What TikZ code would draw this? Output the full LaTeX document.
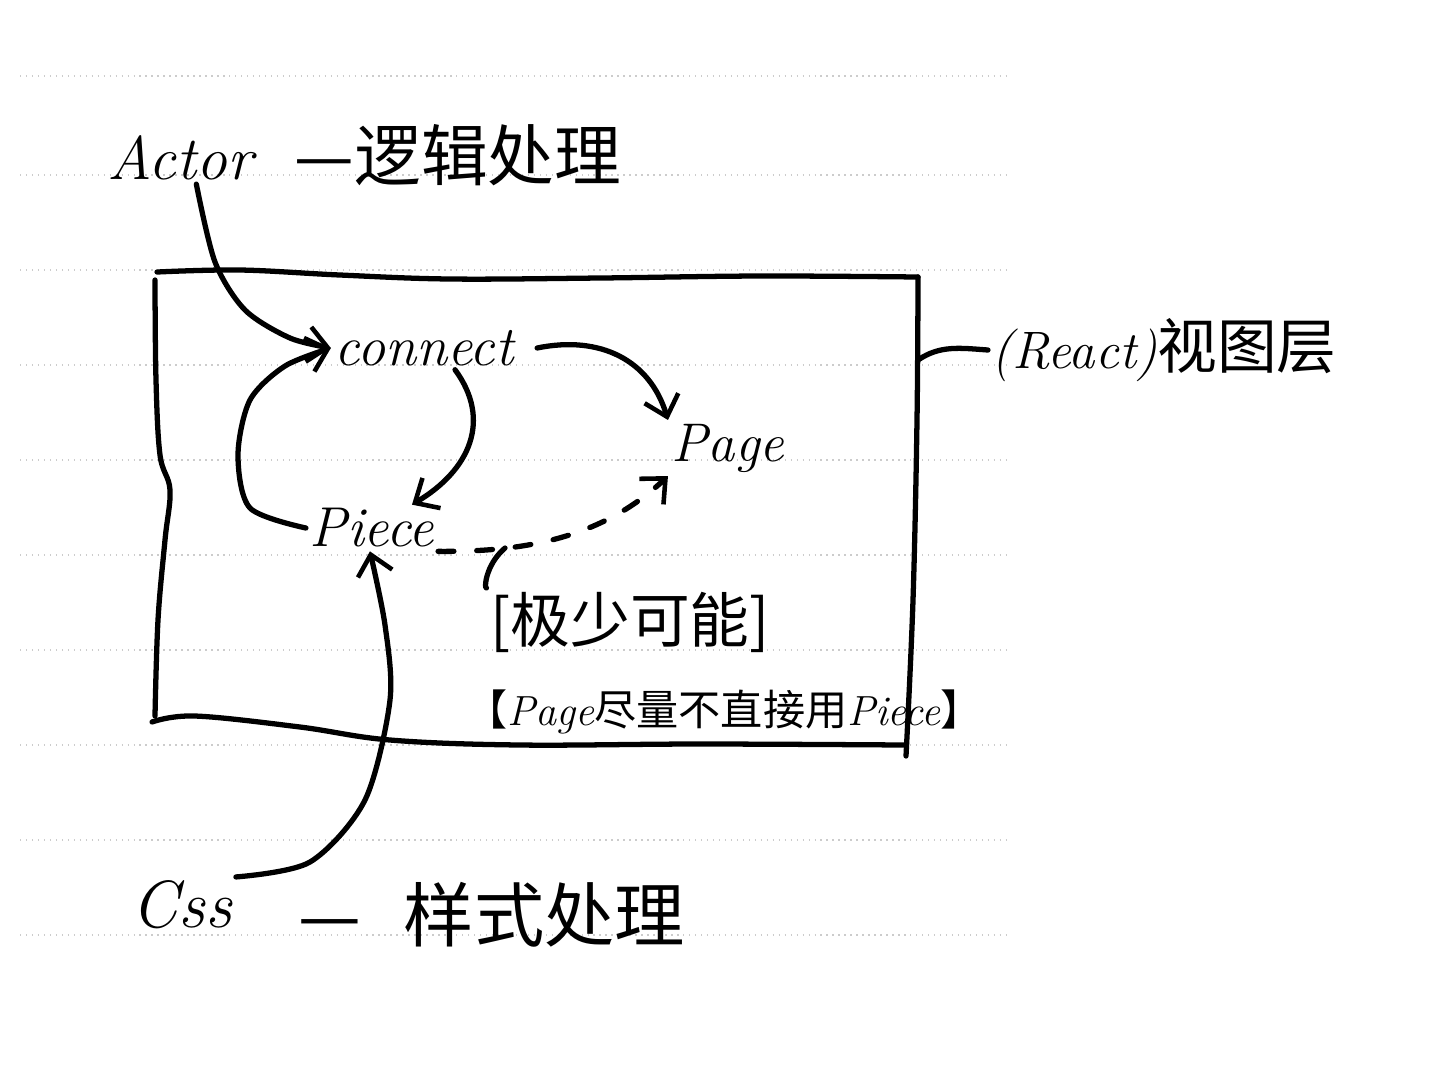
\documentclass[tikz,border=0pt]{standalone}
\usepackage{fontspec}
\newfontfamily\zhfont{Noto Sans CJK SC}
\usetikzlibrary{arrows.meta}

\tikzset{
  hand/.style={line width=3pt, line cap=round, line join=round},
  arr/.style={hand, -{Straight Barb[length=11pt,width=20pt,line width=2.6pt]}},
  dotarr/.style={arr, dash pattern=on 9pt off 13pt},
  rule/.style={gray!40, line width=0.7pt, dash pattern=on 0.8pt off 2.6pt},
  lat/.style={font=\fontsize{#1}{#1}\selectfont\itshape, inner sep=2pt},
  lat/.default=32,
  zh/.style={font=\fontsize{#1}{#1}\selectfont\zhfont, inner sep=2pt},
  zh/.default=34,
}

\begin{document}
\begin{tikzpicture}[x=0.02cm,y=-0.02cm]
\useasboundingbox (0,0) rectangle (1432,1080);
% ruled paper
\foreach \y in {76,175,270,365,460,555,650,745,840,935}
  \draw[rule] (20,\y) -- (1010,\y);

% words
\node[lat=35] (actor) at (180,158) {Actor};
\node[zh=38] (logic) at (458,155) {—逻辑处理};
\node[lat=32] (connect) at (424,348) {connect};
\node[lat=31] (page) at (728,448) {Page};
\node[lat=32] (piece) at (372,528) {Piece};
\node[zh=34] (rare) at (630,622) {[极少可能]};
\node[zh=24] (note) at (724,712) {【{\rmfamily\itshape Page}尽量不直接用{\rmfamily\itshape Piece}】};
\node[zh=34, anchor=west] (react) at (988,350) {{\rmfamily\itshape\fontsize{30}{30}\selectfont (React)}视图层};
\node[lat=38] (css) at (182,905) {Css};
\node[zh=40] (style) at (492,915) {—\hspace{0.6em}样式处理};

% view layer box
\draw[hand] plot[smooth, tension=0.6] coordinates {(157,272) (240,270) (340,275) (450,279) (600,278) (760,276) (918,277)};
\draw[hand] plot[smooth, tension=0.6] coordinates {(155,280) (156,380) (160,455) (170,490) (165,540) (158,620) (155,716)};
\draw[hand] plot[smooth, tension=0.6] coordinates {(918,277) (917,420) (913,600) (906,756)};
\draw[hand] plot[smooth, tension=0.6] coordinates {(152,722) (195,716) (300,727) (390,740) (520,745) (700,744) (905,745)};
\coordinate (boxr) at (918,360);
\draw[hand] (boxr) .. controls (940,345) and (960,348) .. (react.west);

% arrows
\draw[arr] plot[smooth] coordinates {(actor.-58) (215,262) (245,310) (290,338) (connect.west)};
\draw[arr] plot[smooth] coordinates {(piece.west) (250,508) (238,455) (250,400) (285,366) (connect.west)};
\draw[arr] ([xshift=0.4cm]connect.east) .. controls (600,335) and (650,360) .. (page.north west);
\draw[arr] (connect.-35) .. controls (492,420) and (470,470) .. ([xshift=0.8cm]piece.north);
\coordinate (fork) at (505,548);
\draw[dotarr] (piece.south east) .. controls (520,552) and (600,540) .. (page.south west);
\draw[hand] (fork) .. controls (485,565) and (484,590) .. (rare.north west);
\draw[arr] plot[smooth] coordinates {(css.north east) (310,862) (365,800) (390,700) (385,625) (piece.-95)};
\end{tikzpicture}
\end{document}
